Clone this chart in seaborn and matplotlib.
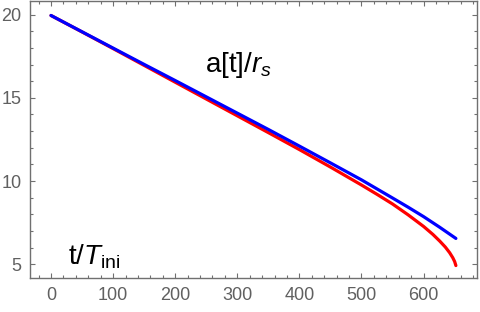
import matplotlib
matplotlib.use("Agg")
import matplotlib.pyplot as plt
from matplotlib.ticker import MultipleLocator
import seaborn as sns
import pandas as pd

# --- data ---
t_blue = [0, 50, 100, 150, 200, 250, 300, 350, 400, 450, 500, 550, 575, 600, 626, 652]
a_blue = [19.95, 18.97, 17.99, 17.01, 16.04, 15.06, 14.08, 13.10, 12.10, 11.09,
          10.07, 8.98, 8.43, 7.86, 7.22, 6.55]

t_red = [0, 50, 100, 150, 200, 250, 300, 350, 400, 450, 500, 525, 550, 575, 600,
         615, 626, 635, 642, 647, 650, 652]
a_red = [19.95, 18.96, 17.96, 16.95, 15.94, 14.93, 13.92, 12.91, 11.89, 10.84,
         9.76, 9.20, 8.62, 7.97, 7.27, 6.79, 6.39, 6.03, 5.69, 5.39, 5.16, 4.92]

x_ticks = [0, 100, 200, 300, 400, 500, 600]
y_ticks = [5, 10, 15, 20]

sns.set_style("ticks")
plt.rcParams['font.family'] = ['Liberation Sans', 'DejaVu Sans']
plt.rcParams['mathtext.fontset'] = 'custom'
plt.rcParams['mathtext.rm'] = 'Liberation Sans'
plt.rcParams['mathtext.it'] = 'Liberation Sans:italic'

gray = '#707070'
fig = plt.figure(figsize=(4.8, 3.12), dpi=100)
ax = fig.add_axes([30/480, 1 - 277.7/312, 447/480, 276.7/312])

df_r = pd.DataFrame({'t': t_red, 'a': a_red})
df_b = pd.DataFrame({'t': t_blue, 'a': a_blue})
sns.lineplot(data=df_r, x='t', y='a', ax=ax, color='#ff0000', lw=2.3, sort=False)
sns.lineplot(data=df_b, x='t', y='a', ax=ax, color='#0000ff', lw=2.3, sort=False)

ax.set_xlim(-33.8, 686)
ax.set_ylim(4.19, 20.82)
ax.set_xticks(x_ticks)
ax.set_yticks(y_ticks)
ax.xaxis.set_minor_locator(MultipleLocator(20))
ax.yaxis.set_minor_locator(MultipleLocator(1))
ax.set_xlabel('')
ax.set_ylabel('')

for s in ax.spines.values():
    s.set_visible(True)
    s.set_color(gray)
    s.set_linewidth(1.0)

ax.tick_params(which='both', direction='in', top=True, right=True,
               color=gray, width=0.8, labelcolor='#606060', labelsize=13)
ax.tick_params(which='major', length=3.5)
ax.tick_params(which='minor', length=2)
ax.tick_params(axis='x', which='major', pad=7)
ax.tick_params(axis='y', which='major', pad=6)

ax.text(248, 16.56, 'a[t]/$r_s$', fontsize=20, ha='left', va='baseline', color='black')
ax.text(27.4, 4.98, 't/$T_{\\mathrm{ini}}$', fontsize=20, ha='left', va='baseline', color='black')

fig.savefig('out.png', dpi=100)
